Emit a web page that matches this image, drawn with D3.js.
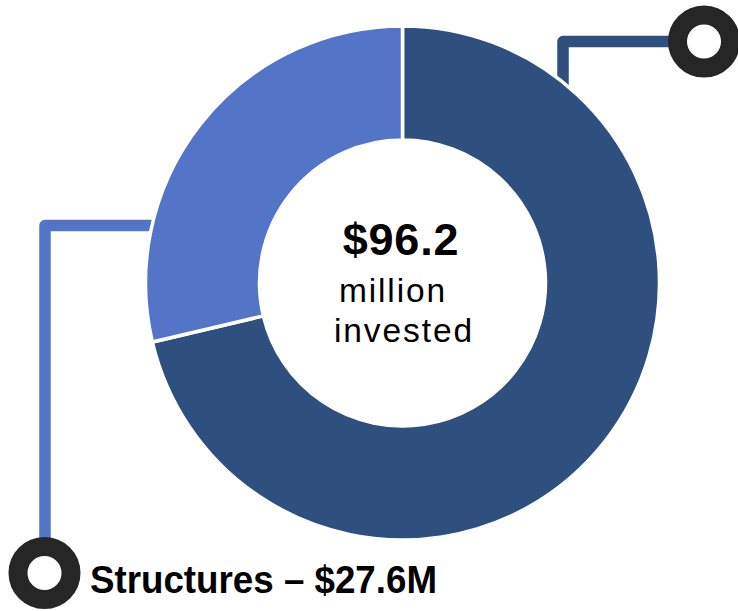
<!DOCTYPE html>
<html>
<head>
<meta charset="utf-8">
<script src="https://cdn.jsdelivr.net/npm/d3@7/dist/d3.min.js"></script>
<style>
  html, body { margin: 0; padding: 0; background: #ffffff; }
  svg { display: block; }
  text { font-family: "Liberation Sans", Arial, Helvetica, sans-serif; fill: #000; }
</style>
</head>
<body>
<svg id="chart" width="738" height="611"></svg>
<script>
// Investment split (millions of dollars), drawn clockwise from 12 o'clock
const categories = ["Other investments", "Structures"];
const values = [68.6, 27.6];
const colors = ["#2F4F7E", "#5474C8"];
const totalLabel = "$96.2";
const centerLines = ["million", "invested"];
const calloutLabel = "Structures – $27.6M";

const svg = d3.select("#chart");
const cx = 402.5, cy = 283;
const outerR = 257, innerR = 143;

const pie = d3.pie().sort(null).value(d => d)(values);
const arc = d3.arc().innerRadius(innerR).outerRadius(outerR);

// Connector lines (drawn under the ring)
const conn = svg.append("g").attr("fill", "none").attr("stroke-width", 11.5)
  .attr("stroke-linejoin", "round");

// Dark slice callout: up from the ring, then right to the marker
conn.append("path")
  .attr("d", "M563,95 L563,41.5 L704,41.5")
  .attr("stroke", colors[0]);

// Structures callout: left from the ring, then down to the marker
conn.append("path")
  .attr("d", "M170,225.5 L45,225.5 L45,573")
  .attr("stroke", colors[1]);

// Donut ring
svg.append("g")
  .attr("transform", `translate(${cx},${cy})`)
  .selectAll("path")
  .data(pie)
  .join("path")
  .attr("d", arc)
  .attr("fill", (d, i) => colors[i])
  .attr("stroke", "#ffffff")
  .attr("stroke-width", 3.5);

// Ring markers at the ends of the callouts
const markers = [[704, 41.5], [44.5, 573]];
svg.append("g").selectAll("circle")
  .data(markers)
  .join("circle")
  .attr("cx", d => d[0])
  .attr("cy", d => d[1])
  .attr("r", 26.5)
  .attr("fill", "#ffffff")
  .attr("stroke", "#262626")
  .attr("stroke-width", 19);

// Centre total
svg.append("text")
  .attr("x", 401).attr("y", 255)
  .attr("text-anchor", "middle")
  .attr("font-weight", "bold")
  .attr("font-size", 45)
  .attr("letter-spacing", 0.8)
  .text(totalLabel);

const lineX = [393, 404];
const lineY = [302, 342];
svg.append("g").selectAll("text")
  .data(centerLines)
  .join("text")
  .attr("x", (d, i) => lineX[i])
  .attr("y", (d, i) => lineY[i])
  .attr("text-anchor", "middle")
  .attr("font-size", 33.5)
  .attr("letter-spacing", 1.9)
  .text(d => d);

// Callout label for the Structures slice
svg.append("text")
  .attr("x", 90).attr("y", 593)
  .attr("font-weight", "bold")
  .attr("font-size", 38.5)
  .attr("textLength", 347)
  .attr("lengthAdjust", "spacingAndGlyphs")
  .text(calloutLabel);
</script>
</body>
</html>
